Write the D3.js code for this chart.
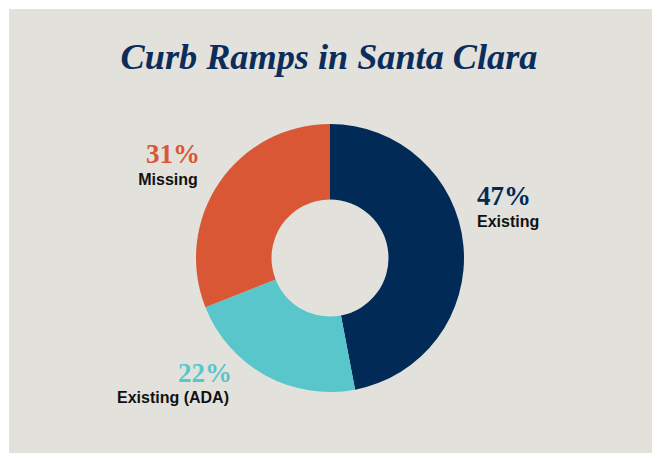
<!DOCTYPE html>
<html><head><meta charset="utf-8">
<script src="https://cdn.jsdelivr.net/npm/d3@7"></script>
<style>html,body{margin:0;padding:0;background:#fff;}svg{display:block;}</style>
</head><body>
<svg id="chart" width="652" height="453"></svg>
<script>
const title = "Curb Ramps in Santa Clara";
const categories = ["Existing", "Existing (ADA)", "Missing"];
const values = [47, 22, 31];
const colors = ["#012a57", "#58c6cb", "#d95735"];
const pctLabels = ["47%", "22%", "31%"];

const svg = d3.select("#chart");
svg.append("rect").attr("x", 9).attr("y", 9).attr("width", 643).attr("height", 444).attr("fill", "#e2e1dc");

const cx = 330, cy = 258, rOuter = 134, rInner = 58.5;
const pie = d3.pie().sort(null).value(d => d.v);
const arcs = pie(categories.map((c, i) => ({c, v: values[i], i})));
const arc = d3.arc().innerRadius(rInner).outerRadius(rOuter);
const g = svg.append("g").attr("transform", `translate(${cx},${cy})`);
g.selectAll("path").data(arcs).join("path").attr("d", arc).attr("fill", d => colors[d.data.i]);

const t = svg.append("text").attr("x", 329).attr("y", 69).attr("text-anchor", "middle")
  .attr("font-family", "'Liberation Serif', 'DejaVu Serif', serif").attr("font-weight", "bold")
  .attr("font-style", "italic").attr("font-size", 32).attr("fill", "#0c2d5b").text(title);
const w = t.node().getComputedTextLength();
t.attr("font-size", 32 * 417 / w);

// label positions: [x, pctBaseline, nameBaseline, anchor]
const labelPos = [[477, 205, 227, "start"], [173, 382, 403, "middle"], [168, 163, 185, "middle"]];
const pctX = [504, 205, 173];
arcs.forEach((a, k) => {
  const i = a.data.i;
  const p = labelPos[i];
  svg.append("text").attr("x", pctX[i]).attr("y", p[1]).attr("text-anchor", "middle")
    .attr("font-family", "'Liberation Serif', serif").attr("font-weight", "bold")
    .attr("font-size", 27).attr("fill", colors[i]).text(pctLabels[i]);
  svg.append("text").attr("x", p[0]).attr("y", p[2]).attr("text-anchor", p[3])
    .attr("font-family", "'Liberation Sans', Arial, sans-serif").attr("font-weight", "bold")
    .attr("font-size", 16).attr("fill", "#111").text(categories[i]);
});
</script>
</body></html>
